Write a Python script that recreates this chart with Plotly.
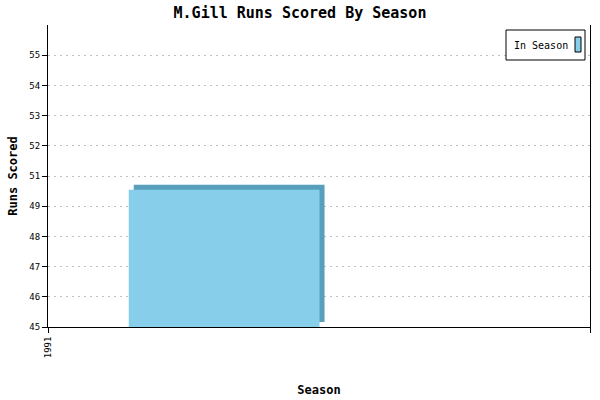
import plotly.graph_objects as go

# ---- data ----
seasons = [1991]
runs = [50]
series_name = "In Season"
y_tick_vals = [45 + 1.1 * i for i in range(10)]
y_tick_text = ["45", "46", "47", "48", "49", "51", "52", "53", "54", "55"]
x_tick_vals = [1991, 1992]
x_tick_text = ["1991", ""]

# ---- style ----
FRONT = "#87CEEB"
SIDE = "#589FBD"
FONT = "DejaVu Sans Mono"
Y_MIN, Y_MAX = 45, 56
X_MIN, X_MAX = 1991, 1992
PLOT_W_PX, PLOT_H_PX = 542, 302
DEPTH_PX = 5
dx = DEPTH_PX / PLOT_W_PX * (X_MAX - X_MIN)
dy = DEPTH_PX / PLOT_H_PX * (Y_MAX - Y_MIN)
bar_offset = 0.149
bar_width = 0.352

fig = go.Figure()
# depth (side/top faces)
fig.add_trace(go.Bar(
    x=seasons, y=[r - Y_MIN for r in runs], base=[Y_MIN + dy] * len(runs),
    offset=bar_offset + dx, width=bar_width,
    marker=dict(color=SIDE, line=dict(width=0)), showlegend=False, hoverinfo="skip"))
# front face
fig.add_trace(go.Bar(
    x=seasons, y=[r - Y_MIN for r in runs], base=[Y_MIN] * len(runs),
    offset=bar_offset, width=bar_width, name=series_name,
    marker=dict(color=FRONT, line=dict(width=0)), showlegend=False))

fig.update_layout(
    width=600, height=400,
    margin=dict(l=48, r=10, t=25, b=73, autoexpand=False),
    paper_bgcolor="white", plot_bgcolor="white",
    barmode="overlay",
    title=dict(text="<b>M.Gill Runs Scored By Season</b>", x=0.5, xanchor="center",
               y=1 - 13 / 400, yanchor="middle", font=dict(family=FONT, size=15, color="black")),
    xaxis=dict(range=[X_MIN, X_MAX], tickvals=x_tick_vals, ticktext=x_tick_text,
               tickangle=-90, ticks="outside", ticklen=5, tickcolor="black",
               showline=True, linecolor="black", linewidth=1, showgrid=False, zeroline=False,
               automargin=False,
               tickfont=dict(family=FONT, size=9, color="black"),
               title=dict(text="<b>Season</b>", font=dict(family=FONT, size=12, color="black"),
                          standoff=28)),
    yaxis=dict(range=[Y_MIN, Y_MAX], tickvals=y_tick_vals, ticktext=y_tick_text,
               ticks="outside", ticklen=5, tickcolor="black",
               showline=True, linecolor="black", linewidth=1, mirror=True,
               showgrid=True, gridcolor="#c0c0c0", griddash="2px,4px", gridwidth=1, zeroline=False,
               automargin=False,
               tickfont=dict(family=FONT, size=9, color="black"),
               title=dict(text="<b>Runs Scored</b>", font=dict(family=FONT, size=12, color="black"),
                          standoff=9)),
    showlegend=False,
)

# legend box (text with swatch to the right, as in the original)
fig.add_shape(type="rect", xref="paper", yref="paper",
              x0=(506 - 48) / PLOT_W_PX, x1=(585 - 48) / PLOT_W_PX,
              y0=(327 - 60) / PLOT_H_PX, y1=(327 - 30) / PLOT_H_PX,
              line=dict(color="black", width=1), fillcolor="white", layer="above")
fig.add_annotation(xref="paper", yref="paper",
                   x=(512 - 48) / PLOT_W_PX, y=(327 - 45) / PLOT_H_PX,
                   xanchor="left", yanchor="middle", showarrow=False,
                   text=series_name, font=dict(family=FONT, size=10, color="black"))
fig.add_shape(type="rect", xref="paper", yref="paper",
              x0=(575 - 48) / PLOT_W_PX, x1=(581 - 48) / PLOT_W_PX,
              y0=(327 - 52) / PLOT_H_PX, y1=(327 - 37) / PLOT_H_PX,
              line=dict(color="black", width=1), fillcolor=FRONT, layer="above")

fig.write_html("out.html", config={"displayModeBar": False},
               post_script="document.body.style.margin='0';")
